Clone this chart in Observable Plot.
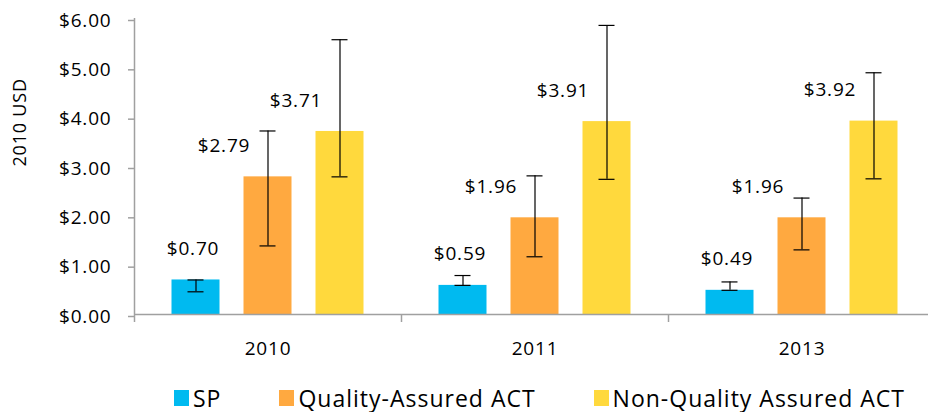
<!DOCTYPE html>
<html><head><meta charset="utf-8">
<script src="https://cdn.jsdelivr.net/npm/d3@7"></script>
<script src="https://cdn.jsdelivr.net/npm/@observablehq/plot@0.6"></script>
<style>
body{margin:0;background:#fff;overflow:hidden;font-family:"Open Sans",sans-serif;color:#000;}
#chart svg{display:block;}
#legend{height:40px;box-sizing:border-box;padding-top:11px;padding-left:174px;display:flex;justify-content:flex-start;gap:58px;font-size:23px;line-height:26px;letter-spacing:1px;white-space:nowrap;}
#legend .item{display:flex;align-items:center;gap:4px;}
#legend .sw{width:15px;height:16px;display:inline-block;}
svg text{letter-spacing:0.8px;}
</style></head><body>
<div id="chart"></div>
<div id="legend"></div>
<script>
const years = ["2010", "2011", "2013"];
const series = ["SP", "Quality-Assured ACT", "Non-Quality Assured ACT"];
const colors = ["#00BAF0", "#FFA940", "#FFD93D"];
const spValues = [0.70, 0.59, 0.49];
const qaValues = [2.79, 1.96, 1.96];
const nqaValues = [3.71, 3.91, 3.92];
const spLow = [0.46, 0.59, 0.49];
const spHigh = [0.70, 0.79, 0.66];
const qaLow = [1.39, 1.17, 1.31];
const qaHigh = [3.72, 2.81, 2.36];
const nqaLow = [2.79, 2.74, 2.75];
const nqaHigh = [5.57, 5.86, 4.90];
const yTicks = [0, 1, 2, 3, 4, 5, 6];
const yLabel = "2010 USD";

const values = [spValues, qaValues, nqaValues];
const lows = [spLow, qaLow, nqaLow];
const highs = [spHigh, qaHigh, nqaHigh];

const W = 928, H = 372, left = 134, band = 267, step = 72, barW = 48, cap = 16;
const labelShift = [-3, -44, -44];
const axisColor = "#a0a0a0";
const fs = 19;

const rows = years.flatMap((yr, j) => series.map((s, i) => ({
  year: yr, series: s, i, value: values[i][j], low: lows[i][j], high: highs[i][j]
})));

const marks = [];
series.forEach((s, i) => {
  const c = band / 2 + (i - 1) * step;
  const data = rows.filter(d => d.i === i);
  marks.push(Plot.barY(data, {x: "year", y: "value", fill: colors[i], insetLeft: c - barW / 2, insetRight: band - c - barW / 2}));
});
series.forEach((s, i) => {
  const c = band / 2 + (i - 1) * step;
  const data = rows.filter(d => d.i === i);
  marks.push(Plot.ruleX(data, {x: "year", y1: "low", y2: "high", dx: (i - 1) * step, stroke: "#000", strokeWidth: 1.2}));
  marks.push(Plot.tickY(data, {x: "year", y: "low", insetLeft: c - cap / 2, insetRight: band - c - cap / 2, stroke: "#000", strokeWidth: 1.2}));
  marks.push(Plot.tickY(data, {x: "year", y: "high", insetLeft: c - cap / 2, insetRight: band - c - cap / 2, stroke: "#000", strokeWidth: 1.2}));
  marks.push(Plot.text(data, {x: "year", y: "value", text: d => "$" + d.value.toFixed(2), dx: (i - 1) * step + labelShift[i], dy: -31, fontSize: fs, fill: "#000"}));
});

const chart = Plot.plot({
  width: W, height: H,
  marginLeft: left, marginRight: 0, marginTop: 18, marginBottom: 58,
  style: {fontFamily: "'Open Sans', sans-serif", fontSize: fs + "px", color: "#000", background: "#fff", overflow: "hidden"},
  x: {domain: years, range: [left, left + band * 3], padding: 0, label: null},
  y: {domain: [0, 6], label: null},
  marks: [
    ...marks,
    Plot.ruleY([0], {stroke: axisColor, strokeWidth: 1.5}),
    Plot.ruleX([years[0]], {x: d => d, y1: 0, y2: 6, dx: -band / 2, stroke: axisColor, strokeWidth: 1.5}),
    Plot.ruleX(years, {x: d => d, y1: 0, y2: 0, insetBottom: -8, dx: -band / 2, stroke: axisColor, strokeWidth: 1.5}),
    Plot.axisY({ticks: yTicks, tickFormat: d => "$" + d.toFixed(2), tickSize: 6, tickPadding: 17, stroke: axisColor, strokeWidth: 1.5, fill: "#000", fontSize: fs, dy: 2, label: null}),
    Plot.axisX({tickSize: 0, tickPadding: 27, fontSize: fs, fill: "#000", label: null}),
    Plot.text([yLabel], {text: d => d, frameAnchor: "left", dx: -114, rotate: -90, fontSize: 18, fill: "#000"})
  ]
});
document.getElementById("chart").appendChild(chart);

const legend = document.getElementById("legend");
series.forEach((s, i) => {
  const item = document.createElement("div");
  item.className = "item";
  const sw = document.createElement("span");
  sw.className = "sw";
  sw.style.background = colors[i];
  const t = document.createElement("span");
  t.textContent = s;
  item.appendChild(sw); item.appendChild(t);
  legend.appendChild(item);
});
</script>
</body></html>
